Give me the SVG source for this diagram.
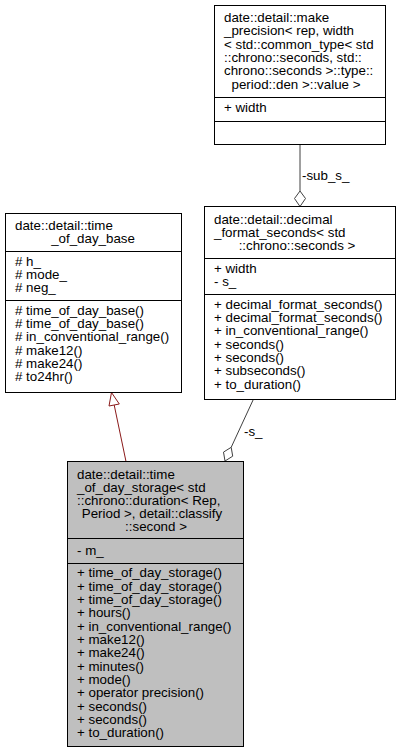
<svg xmlns="http://www.w3.org/2000/svg" width="400" height="753" viewBox="0 0 400 753">
<style>
text{font-family:"Liberation Sans",Arial,sans-serif;font-size:13.33px;fill:#000}
.c{text-anchor:middle}
.box{fill:#fff;stroke:#000;stroke-width:1}
.cur{fill:#bfbfbf;stroke:#000;stroke-width:1}
.sep{stroke:#000;stroke-width:1}
.edge{fill:none;stroke:#404040;stroke-width:1}
.inh{fill:none;stroke:#8b1a1a;stroke-width:1}
</style>
<rect width="400" height="753" fill="#fff"/>
<g id="connectors">
  <line class="edge" x1="300" y1="144" x2="300" y2="191"/>
  <polygon class="edge" fill="#fff" points="300,191 305.5,198.5 300,206.5 294.5,198.5" style="fill:#fff"/>
  <text x="302" y="180">-sub_s_</text>
  <line class="edge" x1="253.3" y1="399.5" x2="231.2" y2="447.3"/>
  <polygon class="edge" points="225,461 232.7,456.2 231.2,447.3 223.5,452.1" style="fill:#fff"/>
  <text x="244" y="436">-s_</text>
  <line class="inh" x1="126" y1="461.5" x2="114.2" y2="405"/>
  <polygon class="inh" points="111.5,392.5 119.3,404 109,406" style="fill:#fff"/>
</g>
<g id="make_precision">
  <rect class="box" x="214.5" y="5.5" width="171" height="139"/>
  <text x="224" y="22">date::detail::make</text>
  <text x="224" y="35.3">_precision&lt; rep, width</text>
  <text x="224" y="48.7">&lt; std::common_type&lt; std</text>
  <text x="224" y="62">::chrono::seconds, std::</text>
  <text x="224" y="75.3">chrono::seconds &gt;::type::</text>
  <text class="c" x="296" y="88.7">period::den &gt;::value &gt;</text>
  <line class="sep" x1="214.5" y1="97.5" x2="385.5" y2="97.5"/>
  <text x="224" y="111.5">+ width</text>
  <line class="sep" x1="214.5" y1="121.5" x2="385.5" y2="121.5"/>
</g>
<g id="decimal_format_seconds">
  <rect class="box" x="204.5" y="206.5" width="191" height="193"/>
  <text x="214" y="223.5">date::detail::decimal</text>
  <text x="214" y="236.8">_format_seconds&lt; std</text>
  <text class="c" x="297" y="250.2">::chrono::seconds &gt;</text>
  <line class="sep" x1="204.5" y1="258.5" x2="395.5" y2="258.5"/>
  <text x="214" y="272.5">+ width</text>
  <text x="214" y="285.8">- s_</text>
  <line class="sep" x1="204.5" y1="294.5" x2="395.5" y2="294.5"/>
  <text x="214" y="308.5">+ decimal_format_seconds()</text>
  <text x="214" y="321.8">+ decimal_format_seconds()</text>
  <text x="214" y="335.2">+ in_conventional_range()</text>
  <text x="214" y="348.5">+ seconds()</text>
  <text x="214" y="361.8">+ seconds()</text>
  <text x="214" y="375.2">+ subseconds()</text>
  <text x="214" y="388.5">+ to_duration()</text>
</g>
<g id="time_of_day_base">
  <rect class="box" x="5.5" y="213.5" width="176" height="179"/>
  <text x="15" y="230">date::detail::time</text>
  <text class="c" x="93" y="243.3">_of_day_base</text>
  <line class="sep" x1="5.5" y1="251.5" x2="181.5" y2="251.5"/>
  <text x="15" y="265.5"># h_</text>
  <text x="15" y="278.8"># mode_</text>
  <text x="15" y="292.2"># neg_</text>
  <line class="sep" x1="5.5" y1="300.5" x2="181.5" y2="300.5"/>
  <text x="15" y="314.5"># time_of_day_base()</text>
  <text x="15" y="327.8"># time_of_day_base()</text>
  <text x="15" y="341.2"># in_conventional_range()</text>
  <text x="15" y="354.5"># make12()</text>
  <text x="15" y="367.8"># make24()</text>
  <text x="15" y="381.2"># to24hr()</text>
</g>
<g id="time_of_day_storage">
  <rect class="cur" x="67.5" y="461.5" width="176" height="285"/>
  <text x="77" y="478.5">date::detail::time</text>
  <text x="77" y="491.5">_of_day_storage&lt; std</text>
  <text x="77" y="504.8">::chrono::duration&lt; Rep,</text>
  <text class="c" x="152" y="518">Period &gt;, detail::classify</text>
  <text class="c" x="156" y="531">::second &gt;</text>
  <line class="sep" x1="67.5" y1="538.5" x2="243.5" y2="538.5"/>
  <text x="77" y="555">- m_</text>
  <line class="sep" x1="67.5" y1="563.5" x2="243.5" y2="563.5"/>
  <text x="77" y="577.3">+ time_of_day_storage()</text>
  <text x="77" y="590.7">+ time_of_day_storage()</text>
  <text x="77" y="604">+ time_of_day_storage()</text>
  <text x="77" y="617.3">+ hours()</text>
  <text x="77" y="630.7">+ in_conventional_range()</text>
  <text x="77" y="644">+ make12()</text>
  <text x="77" y="657.3">+ make24()</text>
  <text x="77" y="670.7">+ minutes()</text>
  <text x="77" y="684">+ mode()</text>
  <text x="77" y="697.3">+ operator precision()</text>
  <text x="77" y="710.7">+ seconds()</text>
  <text x="77" y="724">+ seconds()</text>
  <text x="77" y="737.3">+ to_duration()</text>
</g>
</svg>
